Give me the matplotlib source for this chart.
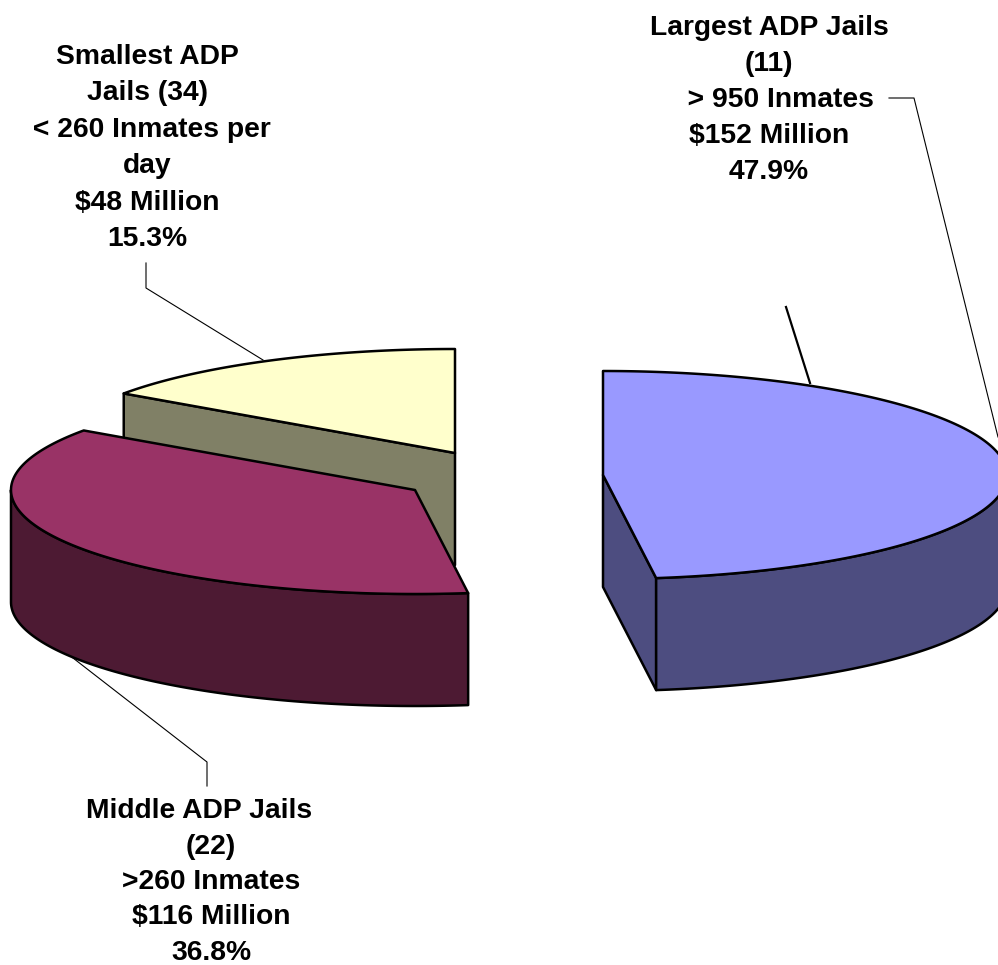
import numpy as np
import matplotlib
matplotlib.use("Agg")
import matplotlib.pyplot as plt
from matplotlib.patches import Polygon

categories = ["Largest ADP Jails", "Middle ADP Jails", "Smallest ADP Jails"]
shares = [47.9, 36.8, 15.3]
top_colors = ["#9999FF", "#993366", "#FFFFCC"]
side_colors = ["#4D4D80", "#4D1A33", "#808066"]
apexes = [(603, 475), (415, 490), (455, 453)]
labels = [
    "Largest ADP Jails\n(11)\n   > 950 Inmates\n\\$152 Million\n47.9%",
    "Middle ADP Jails   \n(22)\n>260 Inmates\n\\$116 Million\n36.8%",
    "Smallest ADP\nJails (34)\n < 260 Inmates per\nday\n\\$48 Million\n15.3%",
]
label_pos = [(769, 100), (211, 882), (147.5, 148)]
label_spacing = [1.49, 1.47, 1.53]

A, B, DEPTH = 404, 104, 112

fig = plt.figure(figsize=(9.98, 9.65), dpi=100)
ax = fig.add_axes([0, 0, 1, 1])
ax.set_xlim(0, 998)
ax.set_ylim(965, 0)
ax.axis("off")


def rim(apex, t0, t1, n=200):
    t = np.radians(np.linspace(t0, t1, n))
    return np.column_stack([apex[0] + A * np.sin(t), apex[1] - B * np.cos(t)])


def poly(pts, color, z):
    ax.add_patch(Polygon(pts, closed=True, fc=color, ec="black", lw=1.8, joinstyle="round", zorder=z))


down = np.array([0, DEPTH])
bounds = np.cumsum([0] + shares) * 3.6
order = [2, 1, 0]
for i in order:
    t0, t1 = bounds[i], bounds[i + 1]
    ap = np.array(apexes[i], float)
    top = rim(ap, t0, t1)
    if i == 0:
        face = np.array([ap, top[-1], top[-1] + down, ap + down])
        poly(face, side_colors[i], 2 + i)
    if i == 2:
        face = np.array([top[0], ap, ap + down, top[0] + down])
        poly(face, side_colors[i], 2 + i)
    w0, w1 = max(t0, 90), min(t1, 270)
    if w1 > w0:
        w = rim(ap, w0, w1)
        poly(np.vstack([w, (w + down)[::-1]]), side_colors[i], 2 + i)
    poly(np.vstack([ap[None, :], top]), top_colors[i], 3 + i)

for (x, y), s, sp in zip(label_pos, labels, label_spacing):
    ax.text(x, y, s, ha="center", va="center", fontsize=20.3, fontweight="bold",
            family="Liberation Sans", linespacing=sp, color="black", zorder=10)

ax.plot([889, 914, 998], [98, 98, 437], color="black", lw=0.8, zorder=1)
ax.plot([146, 146, 263], [263, 288, 360], color="black", lw=0.8, zorder=1)
ax.plot([207, 207, 73], [786, 762, 658], color="black", lw=0.8, zorder=9)
ax.plot([786, 810], [307, 383], color="black", lw=1.6, zorder=1)

fig.savefig("out.png", dpi=100)
